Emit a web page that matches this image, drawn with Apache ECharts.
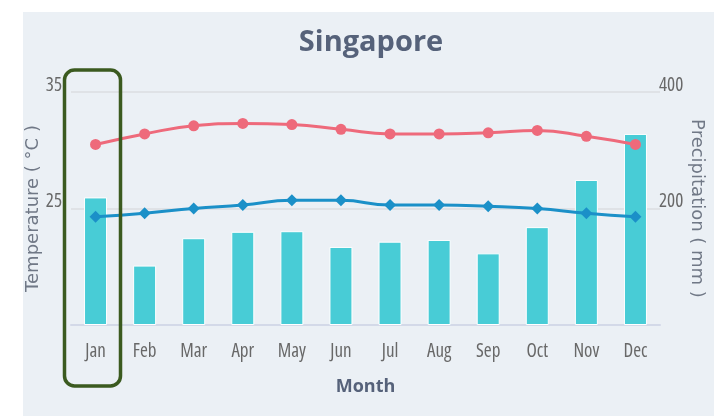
<!DOCTYPE html>
<html>
<head>
<meta charset="utf-8">
<script src="https://cdn.jsdelivr.net/npm/echarts@6/dist/echarts.min.js"></script>
<style>
html,body{margin:0;padding:0;background:#ffffff;}
#panel{position:absolute;left:23px;top:12px;width:691px;height:404px;background:#ebf0f5;}
#chart{position:absolute;left:0;top:0;width:714px;height:416px;}
</style>
</head>
<body>
<div id="panel"></div>
<div id="chart"></div>
<script>
const months = ['Jan','Feb','Mar','Apr','May','Jun','Jul','Aug','Sep','Oct','Nov','Dec'];
const precipitation = [219, 102, 149, 160, 161, 134, 143, 146, 123, 168, 249, 328];
const maxTemp = [30.5, 31.4, 32.1, 32.3, 32.2, 31.8, 31.4, 31.4, 31.5, 31.7, 31.2, 30.5];
const minTemp = [24.3, 24.6, 25.0, 25.3, 25.7, 25.7, 25.3, 25.3, 25.2, 25.0, 24.6, 24.3];
const tempTicks = {min: 15, max: 35, interval: 10};
const precipTicks = {min: 0, max: 400, interval: 200};

const chart = echarts.init(document.getElementById('chart'), null, {renderer: 'canvas'});
const labelFont = '"Open Sans", sans-serif';
const nameFont = '"DejaVu Sans", sans-serif';
chart.setOption({
  backgroundColor: 'transparent',
  animation: false,
  title: {
    text: 'Singapore',
    left: 366, textAlign: 'center', top: 23,
    textStyle: {fontFamily: '"Open Sans", sans-serif', fontWeight: 'bold', fontSize: 29, color: '#56627a'}
  },
  grid: {left: 71, right: 54, top: 92, bottom: 91, containLabel: false, outerBoundsMode: 'none'},
  xAxis: {
    type: 'category',
    data: months,
    name: 'Month',
    nameLocation: 'middle',
    nameGap: 53,
    nameMoveOverlap: false,
    nameTextStyle: {fontFamily: '"Open Sans", sans-serif', fontWeight: 'bold', fontSize: 18, color: '#56627a'},
    axisLine: {lineStyle: {color: '#d3d9e8', width: 2}},
    axisTick: {show: false},
    axisLabel: {margin: 17, fontFamily: labelFont, fontWeight: 'condensed', fontSize: 19, color: '#686868'}
  },
  yAxis: [
    {
      type: 'value', min: tempTicks.min, max: tempTicks.max, interval: tempTicks.interval,
      name: 'Temperature ( °C )', nameLocation: 'middle', nameGap: 29, nameRotate: 90,
      nameMoveOverlap: false,
      nameTextStyle: {fontFamily: nameFont, fontSize: 18, color: '#707886'},
      axisLine: {show: false}, axisTick: {show: false},
      axisLabel: {showMinLabel: false, margin: 9, verticalAlign: 'bottom', fontFamily: labelFont, fontWeight: 'condensed', fontSize: 19, color: '#686868', padding: [0,0,-3,0]},
      splitLine: {lineStyle: {color: '#dfe2e6', width: 2}}
    },
    {
      type: 'value', min: precipTicks.min, max: precipTicks.max, interval: precipTicks.interval,
      name: 'Precipitation ( mm )', nameLocation: 'middle', nameGap: 28, nameRotate: -90,
      nameMoveOverlap: false,
      nameTextStyle: {fontFamily: nameFont, fontSize: 18, color: '#707886'},
      axisLine: {show: false}, axisTick: {show: false},
      axisLabel: {showMinLabel: false, margin: -1, verticalAlign: 'bottom', fontFamily: labelFont, fontWeight: 'condensed', fontSize: 19, color: '#686868', padding: [0,0,-3,0]},
      splitLine: {show: false}
    }
  ],
  series: [
    {
      type: 'bar', name: 'Precipitation', yAxisIndex: 1, data: precipitation,
      barWidth: 23,
      itemStyle: {color: '#48ccd6', borderColor: '#ffffff', borderWidth: 1},
      z: 1
    },
    {
      type: 'line', name: 'Max', yAxisIndex: 0, data: maxTemp, smooth: true,
      symbol: 'circle', symbolSize: 11,
      lineStyle: {color: '#ee6a7b', width: 3},
      itemStyle: {color: '#ee6a7b'}, z: 3
    },
    {
      type: 'line', name: 'Min', yAxisIndex: 0, data: minTemp, smooth: true,
      symbol: 'diamond', symbolSize: 12,
      lineStyle: {color: '#1b90c8', width: 3},
      itemStyle: {color: '#1b90c8'}, z: 3
    }
  ],
  graphic: [
    {
      type: 'rect', z: 100,
      shape: {x: 64.5, y: 70, width: 56, height: 316, r: 10},
      style: {fill: 'none', stroke: '#3b5a1f', lineWidth: 3.5}
    }
  ]
});
</script>
</body>
</html>
